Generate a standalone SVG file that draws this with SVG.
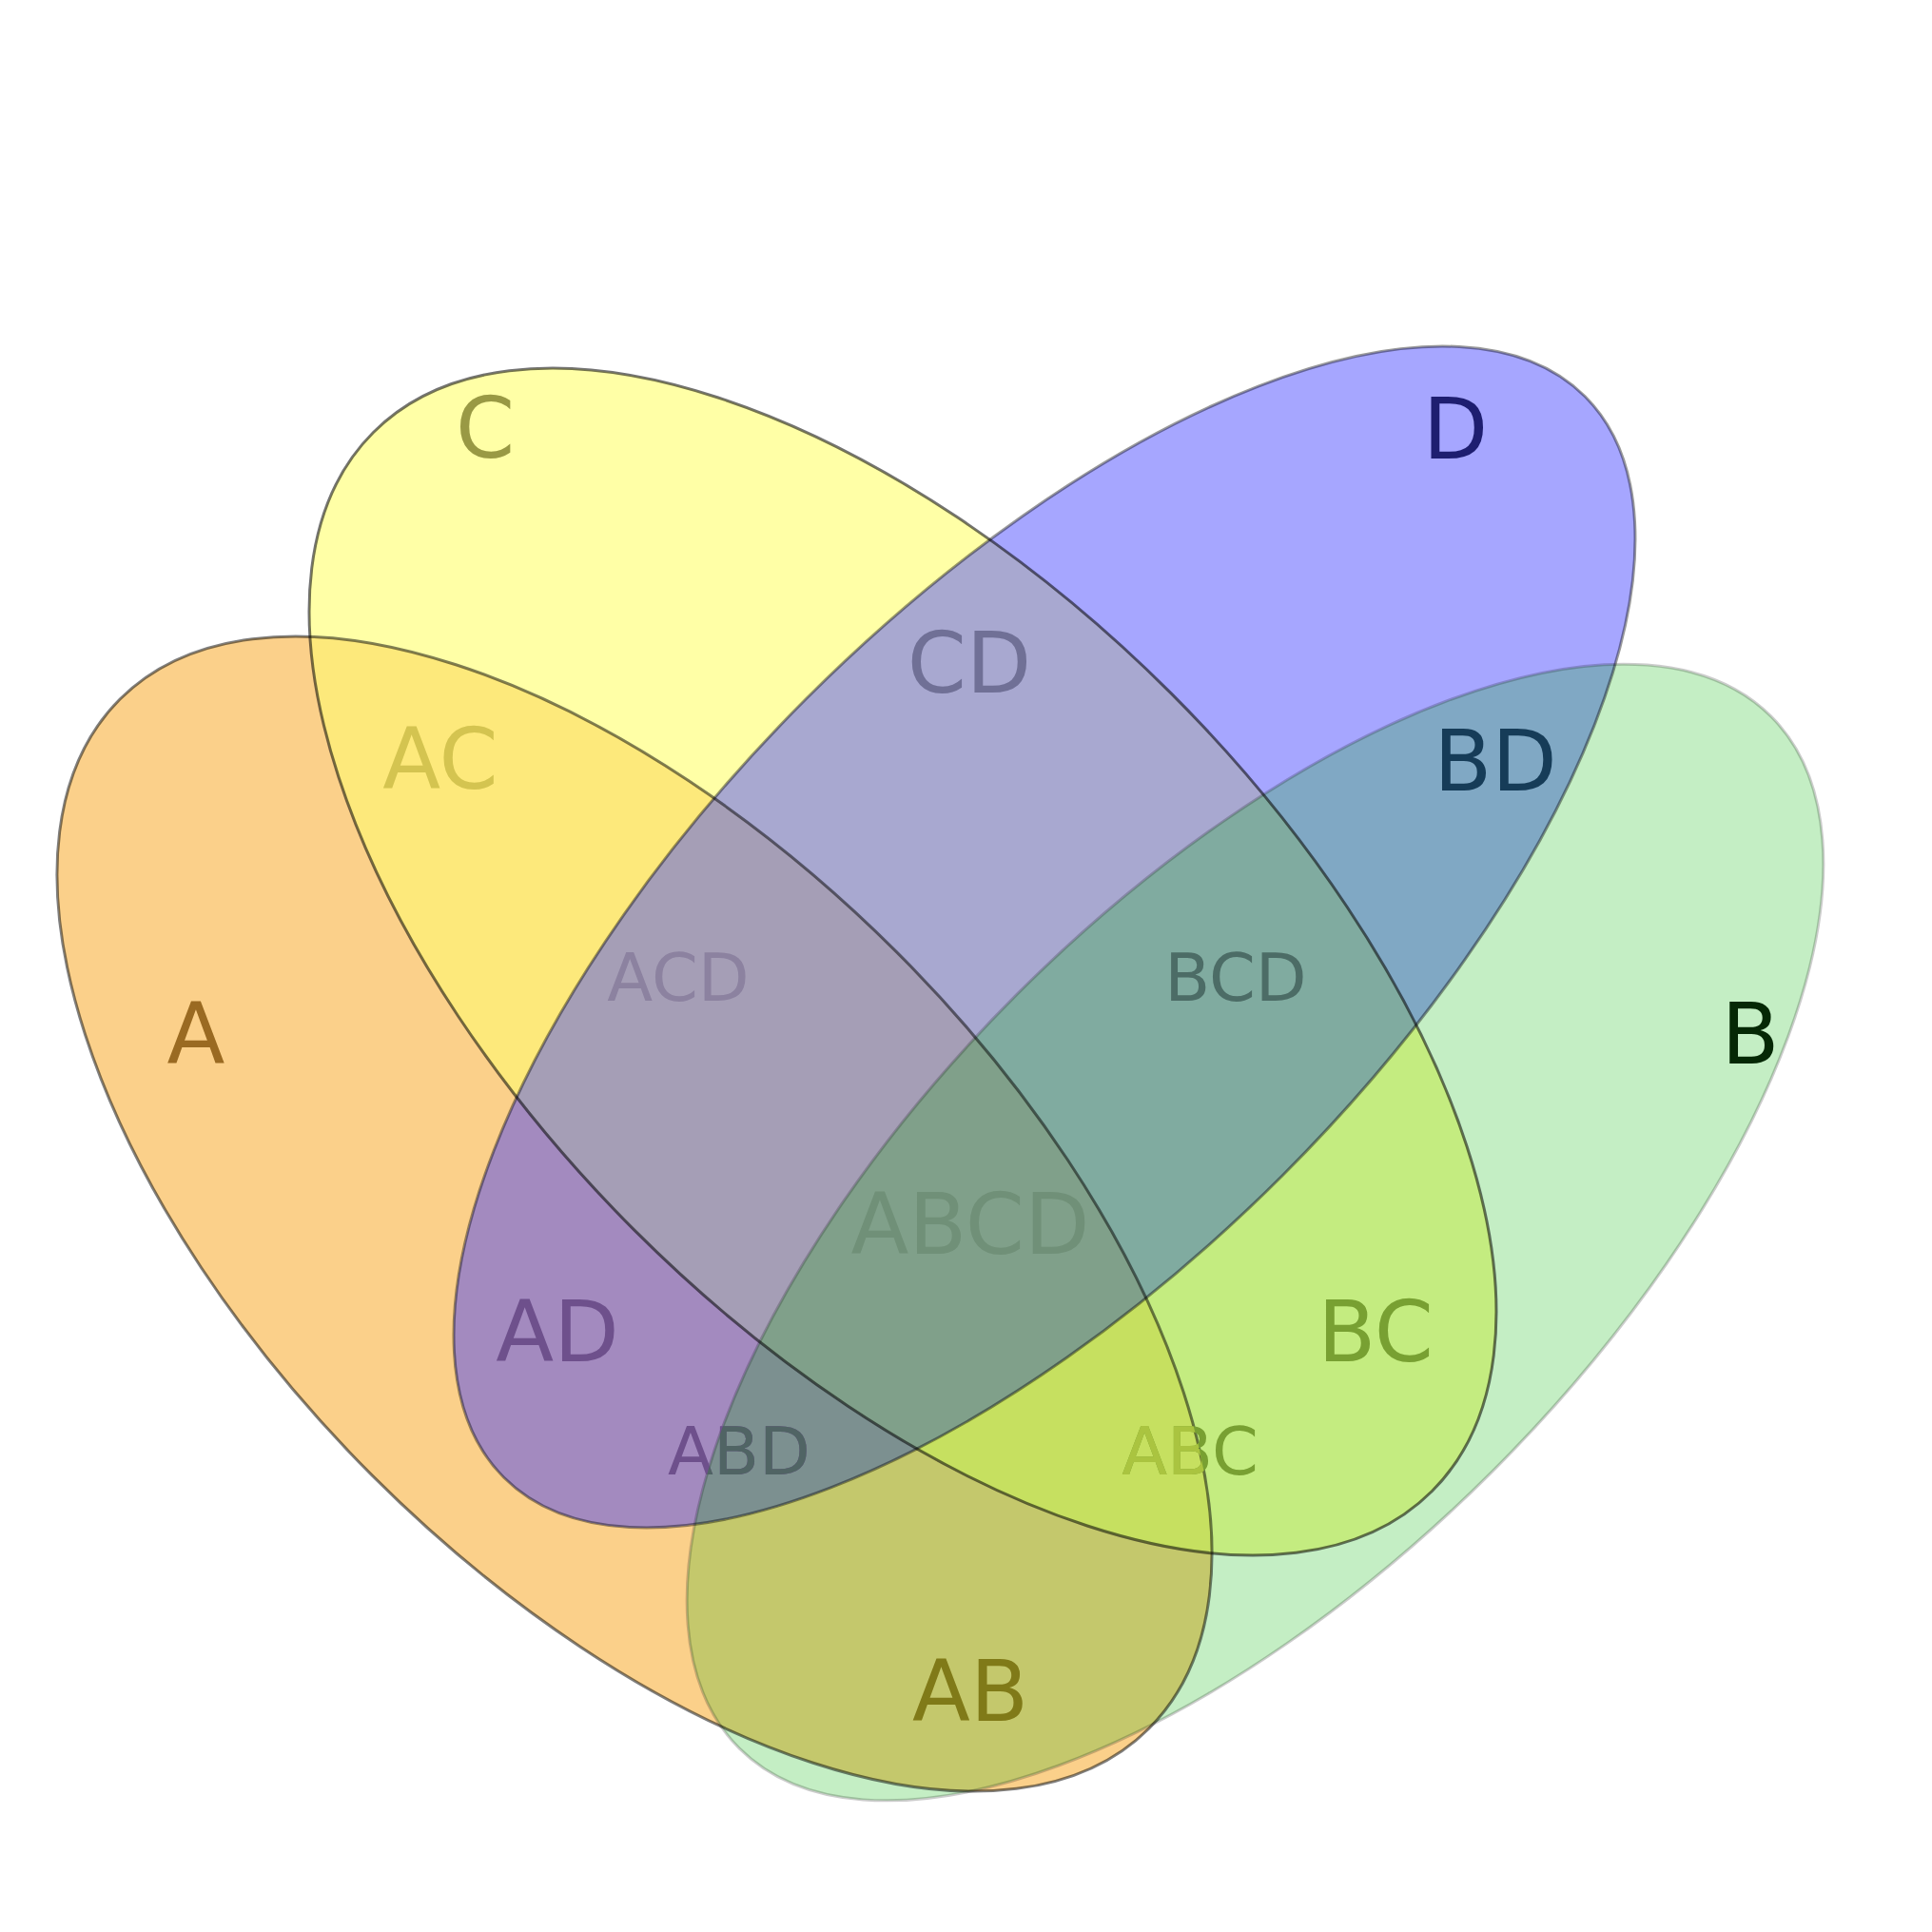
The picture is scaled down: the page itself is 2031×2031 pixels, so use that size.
<svg xmlns="http://www.w3.org/2000/svg" xmlns:xlink="http://www.w3.org/1999/xlink" width="2031" height="2031" viewBox="0 0 2031 2031">
<style>
  .lbl { font-family: "DejaVu Sans", "Liberation Sans", sans-serif; text-anchor: middle; }
  .big { font-size: 89px; }
  .small { font-size: 70px; }
  .outline { fill: none; stroke-width: 3; }
</style>
<defs>
  <ellipse id="eA" cx="667" cy="1276" rx="765" ry="389.5" transform="rotate(45 667 1276)"/>
  <ellipse id="eB" cx="1319.5" cy="1295.5" rx="767" ry="354" transform="rotate(-45 1319.5 1295.5)"/>
  <ellipse id="eC" cx="949" cy="1011" rx="787" ry="399" transform="rotate(45 949 1011)"/>
  <ellipse id="eD" cx="1098" cy="985" rx="803.6" ry="354.2" transform="rotate(-45 1098 985)"/>
  <clipPath id="cpA"><ellipse cx="667" cy="1276" rx="765" ry="389.5" transform="rotate(45 667 1276)"/></clipPath>
  <clipPath id="cpB"><ellipse cx="1319.5" cy="1295.5" rx="767" ry="354" transform="rotate(-45 1319.5 1295.5)"/></clipPath>
  <clipPath id="cpC"><ellipse cx="949" cy="1011" rx="787" ry="399" transform="rotate(45 949 1011)"/></clipPath>
  <clipPath id="cpD"><ellipse cx="1098" cy="985" rx="803.6" ry="354.2" transform="rotate(-45 1098 985)"/></clipPath>
</defs>
<rect width="2031" height="2031" fill="#ffffff"/>
<g id="regions">
  <use href="#eA" fill="#fbd08a"/>
  <use href="#eB" fill="#c4eec4"/>
  <use href="#eC" fill="#ffffa6"/>
  <use href="#eD" fill="#a6a6ff"/>
  <g clip-path="url(#cpB)"><use href="#eA" fill="#c4c86c"/></g>
  <g clip-path="url(#cpC)"><use href="#eA" fill="#fde97b"/></g>
  <g clip-path="url(#cpD)"><use href="#eA" fill="#a38abf"/></g>
  <g clip-path="url(#cpC)"><use href="#eB" fill="#c4ec80"/></g>
  <g clip-path="url(#cpD)"><use href="#eB" fill="#80a8c4"/></g>
  <g clip-path="url(#cpD)"><use href="#eC" fill="#a8a8d0"/></g>
  <g clip-path="url(#cpB)"><g clip-path="url(#cpC)"><use href="#eA" fill="#c6e060"/></g></g>
  <g clip-path="url(#cpB)"><g clip-path="url(#cpD)"><use href="#eA" fill="#7c9090"/></g></g>
  <g clip-path="url(#cpC)"><g clip-path="url(#cpD)"><use href="#eA" fill="#a59eb6"/></g></g>
  <g clip-path="url(#cpC)"><g clip-path="url(#cpD)"><use href="#eB" fill="#80aba0"/></g></g>
  <g clip-path="url(#cpB)"><g clip-path="url(#cpC)"><g clip-path="url(#cpD)"><use href="#eA" fill="#80a08a"/></g></g></g>
</g>
<g id="outlines">
  <use href="#eA" class="outline" stroke="#000000" stroke-opacity="0.5"/>
  <use href="#eB" class="outline" stroke="#000000" stroke-opacity="0.2"/>
  <use href="#eC" class="outline" stroke="#000000" stroke-opacity="0.55"/>
  <use href="#eD" class="outline" stroke="#000000" stroke-opacity="0.4"/>
</g>
<g id="labels">
  <g id="lbl-A"><text class="lbl big" x="206" y="1118" fill="#9a6a22">A</text></g>
  <g id="lbl-B"><text class="lbl big" x="1840" y="1118" fill="#052805">B</text></g>
  <g id="lbl-C"><text class="lbl big" x="510" y="481" fill="#999944">C</text></g>
  <g id="lbl-D"><text class="lbl big" x="1530" y="482" fill="#1e1e70">D</text></g>
  <g id="lbl-AC"><text class="lbl big" x="463" y="829" fill="#d4c450">AC</text></g>
  <g id="lbl-CD"><text class="lbl big" x="1019" y="728" fill="#707096">CD</text></g>
  <g id="lbl-BD"><text class="lbl big" x="1572" y="831" fill="#163c58">BD</text></g>
  <g id="lbl-ACD"><text class="lbl small" x="713" y="1052" fill="#8c82a0">ACD</text></g>
  <g id="lbl-BCD"><text class="lbl small" x="1299" y="1052" fill="#4c6c66">BCD</text></g>
  <g id="lbl-ABCD"><text class="lbl big" x="1020" y="1318" fill="#709078">ABCD</text></g>
  <g id="lbl-AD"><text class="lbl big" x="586" y="1431" fill="#6e508c">AD</text></g>
  <g id="lbl-BC"><text class="lbl big" x="1446" y="1431" fill="#78a032">BC</text></g>
  <g id="lbl-ABD">
    <text class="lbl small" x="777" y="1550" fill="#6e508c">ABD</text>
    <g clip-path="url(#cpB)"><text class="lbl small" x="777" y="1550" fill="#506464">ABD</text></g>
  </g>
  <g id="lbl-ABC">
    <text class="lbl small" x="1251" y="1550" fill="#78a032">ABC</text>
    <g clip-path="url(#cpA)"><text class="lbl small" x="1251" y="1550" fill="#aac440">ABC</text></g>
  </g>
  <g id="lbl-AB"><text class="lbl big" x="1020" y="1809" fill="#807a18">AB</text></g>
</g>
</svg>
